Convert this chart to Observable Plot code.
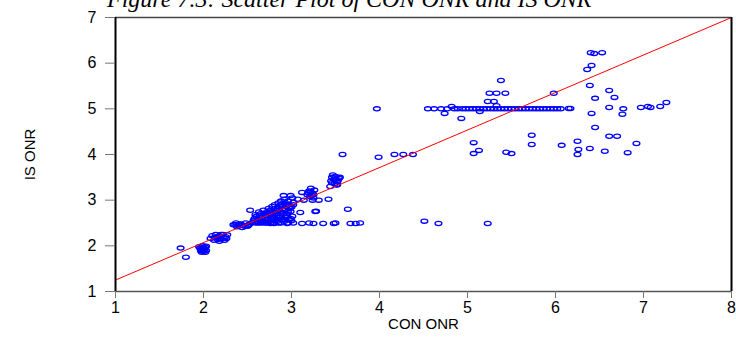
<!DOCTYPE html>
<html>
<head>
<meta charset="utf-8">
<script src="https://cdn.jsdelivr.net/npm/d3@7"></script>
<script src="https://cdn.jsdelivr.net/npm/@observablehq/plot@0.6"></script>
<style>
  html, body { margin: 0; padding: 0; background: #fff; overflow: hidden; }
  #wrap { position: relative; width: 736px; height: 343px; overflow: hidden; }
  #title { position: absolute; left: 107px; top: -13px; font: italic 24px/24px "Liberation Serif", "DejaVu Serif", serif; color: #000; white-space: nowrap; }
  #chart { position: absolute; left: 0; top: 0; }
</style>
</head>
<body>
<div id="wrap">
  <div id="chart"></div>
  <div id="title">Figure 7.3: Scatter Plot of CON ONR and IS ONR</div>
</div>
<script>
// Data
const conOnr = [
  1.74, 1.80,
  1.95, 1.97, 1.98, 2.00, 2.01, 2.02, 1.99, 1.96, 2.03, 2.00, 1.98, 2.02, 1.97, 2.01, 1.99, 2.03,
  2.08, 2.12, 2.15, 2.18, 2.20, 2.22, 2.25, 2.14, 2.18, 2.24, 2.27, 2.10, 2.20, 2.16, 2.13, 2.23, 2.19, 2.26,
  2.34, 2.37, 2.40, 2.42, 2.45, 2.48, 2.50, 2.52, 2.55, 2.44, 2.38, 2.47, 2.36, 2.41, 2.51,
  2.53, 2.80,
  2.58, 2.58, 2.59, 2.57, 2.60,
  2.63, 2.62, 2.64, 2.63, 2.61, 2.65,
  2.68, 2.67, 2.69, 2.68, 2.66, 2.70,
  2.72, 2.71, 2.73, 2.72, 2.74, 2.73, 2.71,
  2.76, 2.77, 2.75, 2.76, 2.78, 2.77, 2.75,
  2.80, 2.81, 2.79, 2.80, 2.82, 2.81, 2.79, 2.82,
  2.84, 2.85, 2.83, 2.84, 2.86, 2.85, 2.83, 2.86,
  2.88, 2.89, 2.87, 2.88, 2.90, 2.89, 2.88, 2.87, 2.90,
  2.92, 2.93, 2.91, 2.92, 2.94, 2.93, 2.92, 2.91, 2.94,
  2.96, 2.97, 2.95, 2.96, 2.98, 2.97, 2.96, 2.95, 2.98,
  3.00, 3.01, 2.99, 3.00, 3.02, 3.01, 2.99, 3.02,
  2.91, 2.99, 3.12,
  3.18, 3.20, 3.22, 3.24, 3.26, 3.21, 3.25, 3.19, 3.23, 3.22, 3.25,
  3.07, 3.14, 3.24, 3.31, 3.42,
  3.10, 3.27, 3.64, 3.28,
  2.60, 2.66, 2.70, 2.76, 2.80, 2.85, 2.95, 3.02, 3.12, 3.20, 3.25, 3.36, 3.48, 3.50, 3.67, 3.73, 3.78,
  3.44, 3.46, 3.48, 3.50, 3.52, 3.54, 3.47, 3.51, 3.55, 3.45, 3.49, 3.53, 3.46, 3.50, 3.52,
  3.58, 3.99, 3.97,
  4.17, 4.27, 4.38,
  4.51, 4.67, 5.23,
  4.55, 4.62, 4.70, 4.77, 4.85, 4.89,
  4.94, 4.98, 5.02, 5.06, 5.10, 5.14, 5.18, 5.22, 5.26, 5.30, 5.34, 5.38, 5.42, 5.46, 5.50,
  5.54, 5.58, 5.62, 5.66, 5.70, 5.74, 5.78, 5.82, 5.86, 5.90, 5.94, 5.98, 6.02, 6.06, 6.15, 6.17,
  4.82, 4.74, 4.93, 5.14, 5.23, 5.30, 5.33, 5.25, 5.33, 5.43, 5.38, 5.98,
  6.36, 6.41, 6.40, 6.44, 6.53, 6.39, 6.61, 6.67, 6.45, 6.61, 6.77, 6.76, 6.41,
  6.97, 7.05, 7.08, 7.19, 7.26, 6.45,
  5.07, 5.73, 5.73, 5.13, 5.07, 5.44, 5.50, 6.07, 6.25, 6.26, 6.25, 6.39, 6.56, 6.61, 6.70, 6.92, 6.82
];
const isOnr = [
  1.95, 1.75,
  1.98, 1.93, 1.90, 1.88, 1.92, 1.97, 2.00, 1.95, 1.90, 1.95, 1.86, 1.86, 1.89, 1.94, 1.91, 1.99,
  2.16, 2.12, 2.18, 2.22, 2.15, 2.25, 2.20, 2.25, 2.10, 2.12, 2.24, 2.22, 2.25, 2.14, 2.19, 2.17, 2.21, 2.16,
  2.46, 2.50, 2.44, 2.48, 2.45, 2.50, 2.43, 2.47, 2.50, 2.40, 2.42, 2.43, 2.46, 2.47, 2.45,
  2.78, 2.60,
  2.52, 2.60, 2.68, 2.56, 2.64,
  2.50, 2.58, 2.66, 2.74, 2.54, 2.70,
  2.52, 2.62, 2.70, 2.78, 2.57, 2.66,
  2.50, 2.58, 2.66, 2.74, 2.82, 2.54, 2.70,
  2.54, 2.62, 2.70, 2.78, 2.86, 2.58, 2.74,
  2.50, 2.58, 2.66, 2.74, 2.82, 2.90, 2.62, 2.78,
  2.54, 2.62, 2.70, 2.78, 2.86, 2.94, 2.66, 2.82,
  2.50, 2.58, 2.66, 2.74, 2.82, 2.90, 2.98, 2.62, 2.86,
  2.54, 2.62, 2.70, 2.78, 2.86, 2.94, 3.02, 2.58, 2.90,
  2.50, 2.58, 2.66, 2.74, 2.82, 2.90, 2.98, 2.70, 2.86,
  2.55, 2.65, 2.75, 2.85, 2.95, 3.05, 2.60, 2.90,
  3.10, 3.10, 3.17,
  3.12, 3.20, 3.26, 3.15, 3.22, 3.08, 3.05, 3.16, 3.10, 3.18, 3.12,
  3.02, 3.00, 3.00, 3.00, 3.02,
  2.73, 2.75, 2.80, 2.76,
  2.50, 2.50, 2.50, 2.49, 2.49, 2.50, 2.49, 2.50, 2.49, 2.50, 2.49, 2.49, 2.49, 2.50, 2.49, 2.49, 2.50,
  3.30, 3.38, 3.45, 3.52, 3.40, 3.48, 3.55, 3.33, 3.50, 3.42, 3.36, 3.44, 3.50, 3.46, 3.34,
  4.00, 3.94, 5.00,
  4.00, 4.00, 4.00,
  2.54, 2.49, 2.49,
  5.00, 5.00, 5.00, 5.00, 5.00, 5.00,
  5.00, 5.00, 5.00, 5.00, 5.00, 5.00, 5.00, 5.00, 5.00, 5.00, 5.00, 5.00, 5.00, 5.00, 5.00,
  5.00, 5.00, 5.00, 5.00, 5.00, 5.00, 5.00, 5.00, 5.00, 5.00, 5.00, 5.00, 5.00, 5.00, 5.01, 5.01,
  5.05, 4.90, 4.79, 4.94, 5.16, 5.16, 5.07, 5.34, 5.34, 5.34, 5.62, 5.34,
  5.86, 5.95, 6.23, 6.21, 6.23, 5.51, 5.40, 5.25, 5.23, 5.03, 5.00, 4.88, 4.90,
  5.03, 5.05, 5.03, 5.05, 5.14, 4.59,
  4.26, 4.42, 4.22, 4.09, 4.02, 4.05, 4.02, 4.20, 4.29, 4.11, 4.00, 4.13, 4.07, 4.40, 4.40, 4.24, 4.04
];
// fitted line end points
const fitX = [1, 8];
const fitY = [1.25, 7.0];
const xTicks = [1, 2, 3, 4, 5, 6, 7, 8];
const yTicks = [1, 2, 3, 4, 5, 6, 7];

const points = conOnr.map((x, i) => ({x, y: isOnr[i]}));
const fit = fitX.map((x, i) => ({x, y: fitY[i]}));

// elliptical open marker
const ellipse = {
  draw(context, size) {
    const rx = 3.4, ry = 2.1, k = 0.5523;
    context.moveTo(rx, 0);
    context.bezierCurveTo(rx, ry * k, rx * k, ry, 0, ry);
    context.bezierCurveTo(-rx * k, ry, -rx, ry * k, -rx, 0);
    context.bezierCurveTo(-rx, -ry * k, -rx * k, -ry, 0, -ry);
    context.bezierCurveTo(rx * k, -ry, rx, -ry * k, rx, 0);
    context.closePath();
  }
};

const chart = Plot.plot({
  width: 736,
  height: 343,
  marginLeft: 115,
  marginRight: 5,
  marginTop: 17,
  marginBottom: 52,
  style: {fontFamily: "Liberation Sans, Arial, sans-serif", fontSize: "15px", color: "#000", background: "#fff"},
  x: {domain: [1, 8], ticks: xTicks, label: null},
  y: {domain: [1, 7], ticks: yTicks, label: null},
  marks: [
    Plot.dot(points, {x: "x", y: "y", symbol: ellipse, r: 3, stroke: "#0000ff", strokeWidth: 1.3, fill: "none"}),
    Plot.line(fit, {x: "x", y: "y", stroke: "#ff0000", strokeWidth: 1}),
    Plot.ruleY([1], {stroke: "#555", strokeWidth: 1.5}),
    Plot.ruleY([7], {stroke: "#444", strokeWidth: 1.5}),
    Plot.ruleX([1], {stroke: "#000", strokeWidth: 2}),
    Plot.ruleX([8], {stroke: "#000", strokeWidth: 2}),
    Plot.axisX({ticks: xTicks, tickFormat: "d", tickSize: 7, tickPadding: 3, stroke: "#777", fontSize: 16, label: null}),
    Plot.axisY({ticks: yTicks, tickFormat: "d", tickSize: 10, tickPadding: 9, stroke: "#777", fontSize: 16, label: null}),
    Plot.text(["CON ONR"], {frameAnchor: "bottom", dy: 37, fontSize: 15, textAnchor: "middle"}),
    Plot.text(["IS ONR"], {frameAnchor: "left", dx: -85, rotate: -90, fontSize: 15, textAnchor: "middle"})
  ]
});
document.getElementById("chart").appendChild(chart);
</script>
</body>
</html>
